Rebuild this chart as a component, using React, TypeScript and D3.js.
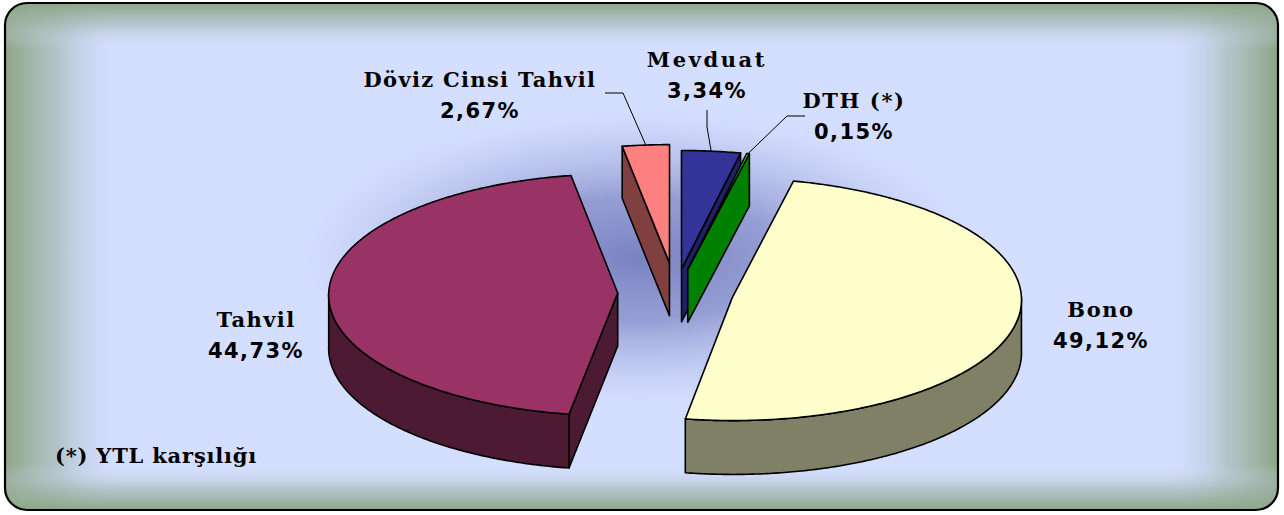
import React, { useEffect, useRef } from 'react';
import * as d3 from 'd3';

// pie data, clockwise from 12 o'clock
const categories = ['Mevduat', 'DTH (*)', 'Bono', 'Tahvil', 'Döviz Cinsi Tahvil'];
const shares = [3.34, 0.15, 49.12, 44.73, 2.67];
const shareLabels = ['3,34%', '0,15%', '49,12%', '44,73%', '2,67%'];
const footnote = '(*) YTL karşılığı';

const topColors = ['#333399', '#33FF33', '#FFFFCC', '#993366', '#FF8080'];
const sideColors = ['#202066', '#008000', '#808066', '#4D1A33', '#804040'];
const explode = [0.2, 0.2, 0.2, 0.2, 0.25];

// label layout: [x, baseline of name], leader: start, elbow (null = none)
const labelPos = [[707, 67], [854, 108], [1101, 317], [256, 327], [480, 87]];
const nameSpacing = [2.6, 1.6, 1.6, 1.4, 1.3];
const leaders: any[] = [[[707, 110], [707, 127]], [[805, 116], [787, 116]], null, null, [[605, 93], [623, 93]]];

const W = 1284, HGT = 515;
const CX = 675.5, CY = 293, RX = 289, RY = 121, DEPTH = 53, PERSP = 0.015;

const App = () => {
  const svgRef = useRef<SVGSVGElement>(null);

  useEffect(() => {
    const svg = d3.select(svgRef.current);
    svg.selectAll('*').remove();
    const defs = svg.append('defs');

    // frame
    defs.append('clipPath').attr('id', 'frameClip')
      .append('rect').attr('x', 5).attr('y', 3).attr('width', 1273).attr('height', 507).attr('rx', 22);

    const edge = (id: string, x1: number, y1: number, x2: number, y2: number) => {
      const g = defs.append('linearGradient').attr('id', id)
        .attr('x1', x1).attr('y1', y1).attr('x2', x2).attr('y2', y2);
      g.append('stop').attr('offset', 0).attr('stop-color', '#8CA585').attr('stop-opacity', 1);
      g.append('stop').attr('offset', 0.45).attr('stop-color', '#9FB4A8').attr('stop-opacity', 0.6);
      g.append('stop').attr('offset', 1).attr('stop-color', '#D4DEFF').attr('stop-opacity', 0);
    };
    edge('edgeL', 0, 0, 1, 0);
    edge('edgeR', 1, 0, 0, 0);
    edge('edgeT', 0, 0, 0, 1);
    edge('edgeB', 0, 1, 0, 0);

    const shadow = defs.append('radialGradient').attr('id', 'pieShadow');
    shadow.append('stop').attr('offset', 0).attr('stop-color', '#7A83C2').attr('stop-opacity', 1);
    shadow.append('stop').attr('offset', 0.4).attr('stop-color', '#8A93CC').attr('stop-opacity', 0.85);
    shadow.append('stop').attr('offset', 0.75).attr('stop-color', '#ADB5E3').attr('stop-opacity', 0.4);
    shadow.append('stop').attr('offset', 1).attr('stop-color', '#D4DEFF').attr('stop-opacity', 0);

    const frame = svg.append('g').attr('clip-path', 'url(#frameClip)');
    frame.append('rect').attr('x', 5).attr('y', 3).attr('width', 1273).attr('height', 507).attr('fill', '#D4DEFF');
    frame.append('ellipse').attr('cx', 640).attr('cy', 258).attr('rx', 360).attr('ry', 155).attr('fill', 'url(#pieShadow)');
    frame.append('rect').attr('x', 5).attr('y', 3).attr('width', 120).attr('height', 507).attr('fill', 'url(#edgeL)');
    frame.append('rect').attr('x', 1163).attr('y', 3).attr('width', 115).attr('height', 507).attr('fill', 'url(#edgeR)');
    frame.append('rect').attr('x', 5).attr('y', 3).attr('width', 1273).attr('height', 46).attr('fill', 'url(#edgeT)');
    frame.append('rect').attr('x', 5).attr('y', 464).attr('width', 1273).attr('height', 46).attr('fill', 'url(#edgeB)');
    svg.append('rect').attr('x', 5).attr('y', 3).attr('width', 1273).attr('height', 507).attr('rx', 22)
      .attr('fill', 'none').attr('stroke', '#000').attr('stroke-width', 2.2);

    // 3d pie
    const pie = d3.pie<number>().sort(null).value(d => d).startAngle(0).endAngle(2 * Math.PI);
    const arcs = pie(shares);
    const proj = (X: number, Z: number, h: number): [number, number] => {
      const s = 1 / (1 + PERSP * Z);
      return [CX + RX * X * s, CY - RY * Z * s + h * s];
    };
    const line = d3.line();

    const slices = arcs.map((a, i) => {
      const a0 = a.startAngle, a1 = a.endAngle;
      const mid = (a0 + a1) / 2;
      const ox = explode[i] * Math.sin(mid), oz = explode[i] * Math.cos(mid);
      const rim = (t: number, h: number) => proj(ox + Math.sin(t), oz + Math.cos(t), h);
      const ctr = (h: number) => proj(ox, oz, h);
      const arcPts = (t0: number, t1: number, h: number) => {
        const n = Math.max(2, Math.ceil((t1 - t0) / 0.01));
        return d3.range(n + 1).map(k => rim(t0 + (t1 - t0) * k / n, h));
      };
      const faces: { d: string; fill: string }[] = [];
      if (Math.sin(a0) < 0) {
        faces.push({ d: line([ctr(0), rim(a0, 0), rim(a0, DEPTH), ctr(DEPTH)])! + 'Z', fill: sideColors[i] });
      }
      if (Math.sin(a1) > 1e-6) {
        faces.push({ d: line([ctr(0), rim(a1, 0), rim(a1, DEPTH), ctr(DEPTH)])! + 'Z', fill: sideColors[i] });
      }
      const w0 = Math.max(a0, Math.PI / 2), w1 = Math.min(a1, 1.5 * Math.PI);
      if (w0 < w1) {
        faces.push({ d: line([...arcPts(w0, w1, 0), ...arcPts(w0, w1, DEPTH).reverse()])! + 'Z', fill: sideColors[i] });
      }
      faces.push({ d: line([ctr(0), ...arcPts(a0, a1, 0)])! + 'Z', fill: topColors[i] });
      return { i, oz, faces, tip: rim(mid, 0) };
    });

    const pieG = svg.append('g');
    slices.slice().sort((p, q) => q.oz - p.oz).forEach(s => {
      pieG.append('g').selectAll('path').data(s.faces).enter().append('path')
        .attr('d', d => d.d)
        .attr('fill', d => d.fill)
        .attr('stroke', '#000')
        .attr('stroke-width', 1.6)
        .attr('stroke-linejoin', 'round');
    });

    // leader lines
    slices.forEach(s => {
      const l = leaders[s.i];
      if (!l) return;
      svg.append('path').attr('d', line([...l, s.tip])!)
        .attr('fill', 'none').attr('stroke', '#000').attr('stroke-width', 1);
    });

    // labels
    const labels = svg.append('g').attr('fill', '#000').attr('text-anchor', 'middle');
    categories.forEach((c, i) => {
      const [x, y] = labelPos[i];
      labels.append('text').attr('x', x).attr('y', y)
        .attr('font-family', 'DejaVu Serif').attr('font-weight', 'bold').attr('font-size', 21)
        .attr('letter-spacing', nameSpacing[i])
        .text(c);
      labels.append('text').attr('x', x).attr('y', y + 31)
        .attr('font-family', 'DejaVu Sans').attr('font-weight', 'bold').attr('font-size', 21)
        .attr('letter-spacing', 1.4)
        .text(shareLabels[i]);
    });

    svg.append('text').attr('x', 55).attr('y', 463)
      .attr('font-family', 'DejaVu Serif').attr('font-weight', 'bold').attr('font-size', 21)
      .attr('letter-spacing', 0.8)
      .text(footnote);
  }, []);

  return (
    <svg ref={svgRef} width={W} height={HGT} style={{ position: 'absolute', left: 0, top: 0 }} />
  );
};

export default App;
